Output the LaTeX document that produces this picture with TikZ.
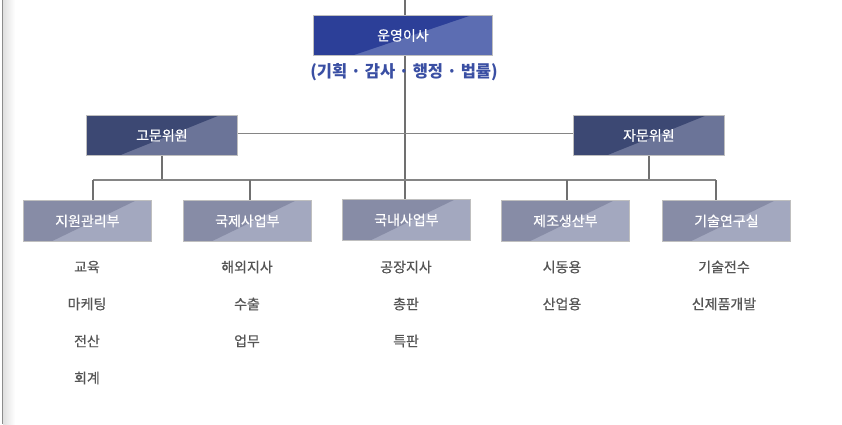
\documentclass[tikz,border=0pt]{standalone}
\usepackage{fontspec}
\setmainfont{Noto Sans CJK KR}
\newfontfamily\medfont[FakeBold=0.6]{Noto Sans CJK KR}
\usetikzlibrary{calc}
\definecolor{topdark}{HTML}{2C3F98}
\definecolor{toplight}{HTML}{5C6DB2}
\definecolor{middark}{HTML}{3C4873}
\definecolor{midlight}{HTML}{6B7498}
\definecolor{lowdark}{HTML}{878CA6}
\definecolor{lowlight}{HTML}{A3A8BF}
\definecolor{linegray}{HTML}{707070}
\definecolor{itemgray}{HTML}{555555}
\definecolor{subblue}{HTML}{3A4FA3}
\tikzset{
  twotone/.style 2 args={
    path picture={
      \fill[#2] (path picture bounding box.south west) rectangle (path picture bounding box.north east);
      \fill[#1] (path picture bounding box.south west) -- (path picture bounding box.north west)
        -- ($(path picture bounding box.north west)!0.88!(path picture bounding box.north east)$)
        -- ($(path picture bounding box.south west)!0.22!(path picture bounding box.south east)$) -- cycle;
    }},
  boxbase/.style={draw=black!25, line width=0.8pt, text=white, font=\medfont\fontsize{14}{16}\selectfont,
    inner sep=0pt, anchor=north west},
  topbox/.style={boxbase, twotone={topdark}{toplight}, minimum width=179pt, minimum height=40pt},
  midbox/.style={boxbase, twotone={middark}{midlight}, minimum width=151pt, minimum height=40pt},
  lowbox/.style={boxbase, twotone={lowdark}{lowlight}, minimum width=128pt, minimum height=41pt},
  item/.style={text=itemgray, font=\medfont\fontsize{14}{16}\selectfont, inner sep=0pt},
  conn/.style={draw=linegray, line width=1.6pt},
  hconn/.style={draw=linegray!85, line width=1.6pt},
}
\begin{document}
\begin{tikzpicture}[x=1pt,y=-1pt]
\useasboundingbox (0,0) rectangle (842,424);
% left frame
\shade[left color=black!12, right color=white] (3,0) rectangle (15,424);
\draw[black!45, line width=1.2pt] (2.5,0) -- (2.5,424);

% coordinates for connectors
\coordinate (top) at (405,0);
\coordinate (hL) at (93,180);
\coordinate (hR) at (716,180);

% boxes
\node[topbox] (ceo) at (313,15) {운영이사};
\node[midbox] (gomun) at (86,115) {고문위원};
\node[midbox] (jamun) at (573,115) {자문위원};
\node[lowbox] (b1) at (23,200) {지원관리부};
\node[lowbox] (b2) at (183,200) {국제사업부};
\node[lowbox] (b3) at (342,199) {국내사업부};
\node[lowbox] (b4) at (501,200) {제조생산부};
\node[lowbox] (b5) at (662,200) {기술연구실};

% connectors
\draw[conn] (top) -- (ceo.north -| top);
\draw[conn] (ceo.south -| top) -- (b3.north -| top);
\draw[hconn] ([yshift=2pt]gomun.east) -- ([yshift=2pt]jamun.west);
\draw[conn] (gomun.south) -- (gomun.south |- hL);
\draw[conn] (jamun.south) -- (jamun.south |- hR);
\draw[hconn] (hL) -- (hR);
\draw[conn] (hL) -- (hL |- b1.north);
\draw[conn] (250,180) coordinate (d2) -- (d2 |- b2.north);
\draw[conn] (567,180) coordinate (d4) -- (d4 |- b4.north);
\draw[conn] (hR) -- (hR |- b5.north);

% subtitle
\node[text=subblue, font=\fontsize{16.5}{19}\selectfont\bfseries, inner sep=0pt] (sub) at (404,72) {(기획 · 감사 · 행정 · 법률)};

% items
\node[item] (i11) at (87,267) {교육};
\node[item] (i12) at (87,304) {마케팅};
\node[item] (i13) at (87,341) {전산};
\node[item] (i14) at (87,378) {회계};
\node[item] (i21) at (247,267) {해외지사};
\node[item] (i22) at (247,304) {수출};
\node[item] (i23) at (247,341) {업무};
\node[item] (i31) at (406,267) {공장지사};
\node[item] (i32) at (406,304) {총판};
\node[item] (i33) at (406,341) {특판};
\node[item] (i41) at (562,267) {시동용};
\node[item] (i42) at (562,304) {산업용};
\node[item] (i51) at (724,267) {기술전수};
\node[item] (i52) at (724,304) {신제품개발};
\end{tikzpicture}
\end{document}
